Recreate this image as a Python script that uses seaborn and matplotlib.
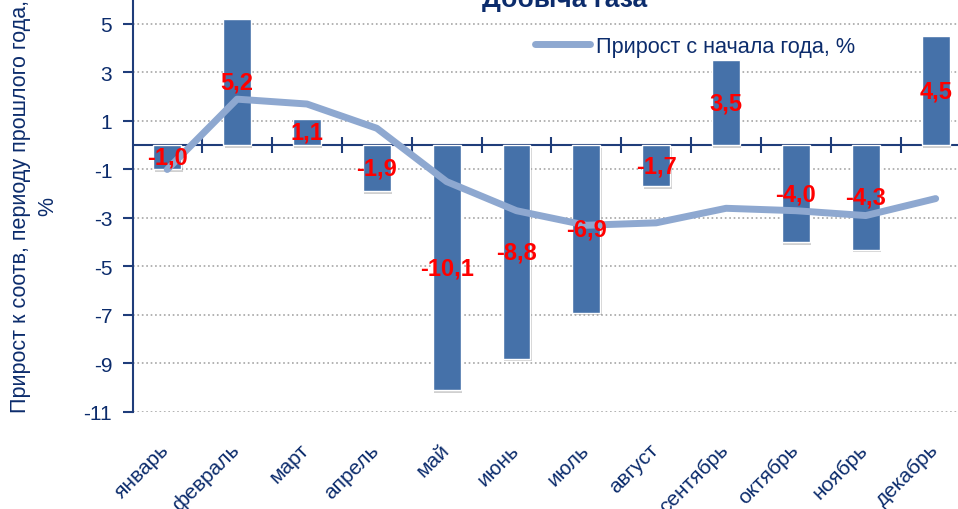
import matplotlib
matplotlib.use('Agg')
import matplotlib.pyplot as plt
import matplotlib.patheffects as pe
import seaborn as sns
import numpy as np
import pandas as pd


# Данные
MONTHS = ['январь', 'февраль', 'март', 'апрель', 'май', 'июнь',
          'июль', 'август', 'сентябрь', 'октябрь', 'ноябрь', 'декабрь']
MONTHLY = [-1.0, 5.2, 1.1, -1.9, -10.1, -8.8, -6.9, -1.7, 3.5, -4.0, -4.3, 4.5]
YTD = [-1.0, 1.9, 1.7, 0.7, -1.5, -2.7, -3.3, -3.2, -2.6, -2.7, -2.9, -2.2]
Y_TICKS = [5, 3, 1, -1, -3, -5, -7, -9, -11]

TITLE = 'Добыча газа'
Y_LABEL = 'Прирост к соотв, периоду прошлого года,\n%'
LINE_LABEL = 'Прирост с начала года, %'

BAR_COLOR = '#4571a9'
LINE_COLOR = '#8ea8d0'
AXIS_COLOR = '#1f3d7a'
TEXT_COLOR = '#0c2c6c'
GRID_COLOR = '#a6a6a6'


def main():
    sns.set_theme(style='white')
    plt.rcParams['font.family'] = ['Liberation Sans', 'DejaVu Sans']

    fig = plt.figure(figsize=(9.58, 5.10), dpi=100)
    ax = fig.add_axes([133 / 958, 1 - 413 / 510, 825 / 958, 413 / 510])
    ax.set_facecolor('none')

    df = pd.DataFrame({'month': MONTHS, 'monthly': MONTHLY, 'ytd': YTD})

    # Столбцы
    sns.barplot(data=df, x='month', y='monthly', color=BAR_COLOR, width=0.4,
                saturation=1, ax=ax, zorder=3)
    for p in ax.patches:
        p.set_path_effects([pe.SimplePatchShadow(offset=(1, -2), shadow_rgbFace='#666666', alpha=0.3),
                            pe.Normal()])

    # Линия прироста с начала года
    sns.lineplot(x=np.arange(len(YTD)), y=df['ytd'], color=LINE_COLOR, linewidth=5,
                 label=LINE_LABEL, ax=ax, zorder=4, solid_capstyle='round')

    # Подписи значений
    for p, v in zip(ax.patches, MONTHLY):
        ax.text(p.get_x() + p.get_width() / 2, v / 2, f'{v:.1f}'.replace('.', ','),
                ha='center', va='center', color='#ff0000', fontsize=17,
                fontweight='bold', zorder=5)

    ymin, ymax = -11, 6.03
    ax.set_ylim(ymin, ymax)
    ax.set_xlim(-0.49, 11.32)
    ax.set_yticks(Y_TICKS)
    ax.set_yticklabels([str(t) for t in Y_TICKS], color=TEXT_COLOR, fontsize=15)
    ax.grid(axis='y', linestyle=':', color=GRID_COLOR, linewidth=1.2, zorder=0)
    ax.grid(axis='x', visible=False)

    for side in ['top', 'right', 'bottom']:
        ax.spines[side].set_visible(False)
    ax.spines['left'].set_color(AXIS_COLOR)
    ax.spines['left'].set_linewidth(1.5)
    ax.tick_params(axis='y', which='major', direction='out', length=7, width=1.5,
                   color=AXIS_COLOR, left=True, pad=8)

    # Подписи месяцев внизу
    ax.set_xticks(np.arange(len(MONTHS)))
    ax.set_xticklabels(MONTHS, rotation=45, ha='right', color=TEXT_COLOR, fontsize=15)
    ax.tick_params(axis='x', length=0, pad=20)
    offset = matplotlib.transforms.ScaledTranslation(6 / 100, 0, fig.dpi_scale_trans)
    for lbl in ax.get_xticklabels():
        lbl.set_transform(lbl.get_transform() + offset)
    ax.set_xlabel('')

    # Ось X на уровне нуля
    zero_frac = (0 - ymin) / (ymax - ymin)
    ax.axhline(0, color=AXIS_COLOR, linewidth=1.5, zorder=2)
    sec = ax.secondary_xaxis(zero_frac)
    sec.set_xticks(np.arange(len(MONTHS)) + 0.5)
    sec.set_xticklabels([])
    sec.tick_params(direction='inout', length=11, width=1.5, color=AXIS_COLOR)
    sec.spines['bottom'].set_visible(False)
    sec.spines['top'].set_visible(False)

    ax.set_ylabel(Y_LABEL, color=TEXT_COLOR, fontsize=15.5, linespacing=1.35)
    ax.yaxis.set_label_coords(-0.091, 0.5)

    leg = ax.legend(loc='center left', bbox_to_anchor=((535 - 133) / 825, (413 - 47) / 413),
                    frameon=False, fontsize=15.6, handlelength=2.55, handletextpad=0.25,
                    borderpad=0, borderaxespad=0)
    for t in leg.get_texts():
        t.set_color(TEXT_COLOR)

    fig.text(565 / 958, 1 - 7 / 510, TITLE, ha='center', va='baseline', fontsize=19,
             fontweight='bold', color=TEXT_COLOR)

    fig.savefig('out.png', dpi=100)


if __name__ == '__main__':
    main()
